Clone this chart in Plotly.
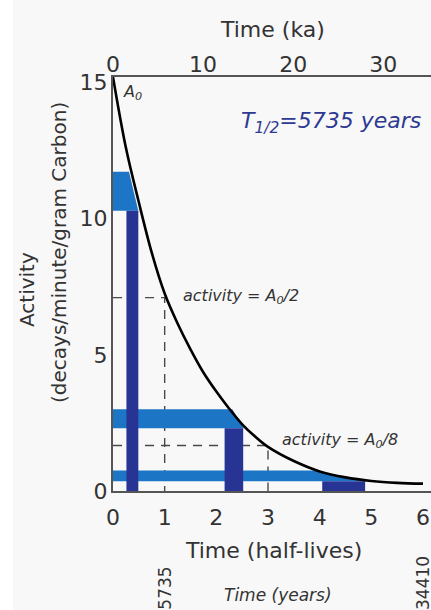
import plotly.graph_objects as go

# ---------------- data ----------------
HALF_LIFE_YEARS = 5735

# decay curve: time in half-lives, activity in decays/minute/gram C
CURVE_T = [0, 0.25, 0.5, 0.75, 1.0, 1.25, 1.5, 1.75, 2.0, 2.25, 2.5, 2.75,
           3.0, 3.5, 4.0, 4.5, 5.0, 5.5, 6.0]
CURVE_A = [15.2, 12.6, 10.6, 8.75, 7.25, 6.15, 5.2, 4.35, 3.65, 3.02, 2.45,
           2.0, 1.62, 1.1, 0.72, 0.5, 0.37, 0.3, 0.27]

# dashed guide lines (A0/2 at 1 half-life, A0/8 at 3 half-lives)
GUIDE_T = [1.0, 3.0]
GUIDE_A = [7.1, 1.67]

# light-blue activity bands (measured activity ranges)
LIGHT_TOP = [11.72, 3.0, 0.75]
LIGHT_BOT = [10.29, 2.30, 0.36]
LIGHT_T_TOP = [0.31, 2.31, 3.95]   # where band top meets curve
LIGHT_T_MID = [0.40, 2.42, 4.40]
LIGHT_A_MID = [11.0, 2.65, 0.53]
LIGHT_T_BOT = [0.49, 2.53, 4.88]   # where band bottom meets curve

# dark-blue age bands (derived age ranges)
DARK_T_LEFT = [0.26, 2.16, 4.05]
DARK_T_RIGHT = [0.49, 2.52, 4.88]
DARK_TOP = [10.29, 2.30, 0.36]

X_TICKS = [0, 1, 2, 3, 4, 5, 6]
KA_TICKS = [0, 10, 20, 30]
Y_TICKS = [0, 5, 10, 15]
YEAR_LABEL_T = [1, 6]
YEAR_LABELS = ["5735", "34410"]

# ---------------- layout helpers ----------------
W, H = 431, 610
L, R, T, B = 113, 0, 77, 119
X_MAX = 6.155
Y_MAX = 15.2
FONT = "DejaVu Sans, Liberation Sans, Arial, sans-serif"
TXT = "#333333"
LIGHT = "#1d76c5"
DARK = "#283494"
AX = "#555555"


def pxx(x):
    return (x - L) / (W - L - R)


def pyy(y):
    return (H - B - y) / (H - T - B)


fig = go.Figure()

# dashed guides
for t, a in zip(GUIDE_T, GUIDE_A):
    fig.add_trace(go.Scatter(x=[0, t, t], y=[a, a, 0], mode="lines",
                             line=dict(color="#4a4a4a", width=1.4, dash="9px,7px"),
                             hoverinfo="skip", showlegend=False))

# light bands
for i in range(3):
    xs = [0, LIGHT_T_TOP[i], LIGHT_T_MID[i], LIGHT_T_BOT[i], 0, 0]
    ys = [LIGHT_TOP[i], LIGHT_TOP[i], LIGHT_A_MID[i], LIGHT_BOT[i], LIGHT_BOT[i], LIGHT_TOP[i]]
    fig.add_trace(go.Scatter(x=xs, y=ys, mode="lines", fill="toself",
                             fillcolor=LIGHT, line=dict(width=0, color=LIGHT),
                             hoverinfo="skip", showlegend=False))

# dark bands
for i in range(3):
    x0, x1, top = DARK_T_LEFT[i], DARK_T_RIGHT[i], DARK_TOP[i]
    fig.add_trace(go.Scatter(x=[x0, x1, x1, x0, x0], y=[0, 0, top, top, 0],
                             mode="lines", fill="toself", fillcolor=DARK,
                             line=dict(width=0, color=DARK),
                             hoverinfo="skip", showlegend=False))

# decay curve
fig.add_trace(go.Scatter(x=CURVE_T, y=CURVE_A, mode="lines",
                         line=dict(color="black", width=2.6, shape="spline", smoothing=1.0),
                         hoverinfo="skip", showlegend=False))

# invisible trace for the top (ka) axis
fig.add_trace(go.Scatter(x=[0], y=[0], xaxis="x2", mode="markers",
                         marker=dict(opacity=0), hoverinfo="skip", showlegend=False))

annotations = [
    dict(text="Time (ka)", x=pxx(272), y=pyy(30), font=dict(size=22)),
    dict(text="Time (half-lives)", x=pxx(273), y=pyy(550), font=dict(size=22)),
    dict(text="Activity", x=pxx(27), y=pyy(290), textangle=-90, font=dict(size=20)),
    dict(text="(decays/minute/gram Carbon)", x=pxx(59), y=pyy(253), textangle=-90,
         font=dict(size=20)),
    dict(text="<i>Time (years)</i>", x=pxx(278), y=pyy(595), font=dict(size=17)),
    dict(text="<i>A<sub>0</sub></i>", x=pxx(132), y=pyy(93), font=dict(size=16)),
    dict(text="<i>T<sub>1/2</sub>=5735 years</i>", x=pxx(331), y=pyy(122),
         font=dict(size=22, color="#2d3992")),
    dict(text="<i>activity = A<sub>0</sub>/2</i>", x=pxx(181), y=pyy(296),
         xanchor="left", font=dict(size=16)),
    dict(text="<i>activity = A<sub>0</sub>/8</i>", x=pxx(280), y=pyy(440),
         xanchor="left", font=dict(size=16)),
]
year_centers = [588, 583]
for t, lab, yc in zip(YEAR_LABEL_T, YEAR_LABELS, year_centers):
    annotations.append(dict(text=lab, x=t, xref="x", y=pyy(yc), textangle=-90,
                            font=dict(size=17)))

for a in annotations:
    a.setdefault("xref", "paper")
    a.setdefault("yref", "paper")
    a.setdefault("showarrow", False)
    a.setdefault("xanchor", "center")
    a.setdefault("yanchor", "middle")
    a["font"].setdefault("color", TXT)
    a["font"].setdefault("family", FONT)

fig.update_layout(
    width=W, height=H,
    margin=dict(l=L, r=R, t=T, b=B, pad=0),
    paper_bgcolor="#f8f8f8", plot_bgcolor="#f8f8f8",
    font=dict(family=FONT, color=TXT),
    showlegend=False,
    xaxis=dict(range=[0, X_MAX], tickvals=X_TICKS, ticks="", showgrid=False,
               zeroline=False, showline=True, linecolor=AX, linewidth=2,
               tickfont=dict(size=22, color=TXT), ticklabelstandoff=6,
               fixedrange=True),
    xaxis2=dict(range=[0, X_MAX * HALF_LIFE_YEARS / 1000], tickvals=KA_TICKS,
                overlaying="x", side="top", anchor="y", ticks="", showgrid=False,
                zeroline=False, showline=True, linecolor=AX, linewidth=2,
                tickfont=dict(size=22, color=TXT), ticklabelstandoff=-6,
                fixedrange=True),
    yaxis=dict(range=[0, Y_MAX], tickvals=Y_TICKS, ticks="", showgrid=False,
               zeroline=False, showline=True, linecolor=AX, linewidth=2,
               tickfont=dict(size=22, color=TXT), ticklabelstandoff=-1,
               fixedrange=True),
    annotations=annotations,
    shapes=[dict(type="rect", xref="paper", yref="paper", layer="below",
                 x0=pxx(0), x1=pxx(13), y0=pyy(H), y1=pyy(0),
                 fillcolor="white", line=dict(width=0))],
)

fig.write_html("out.html")
